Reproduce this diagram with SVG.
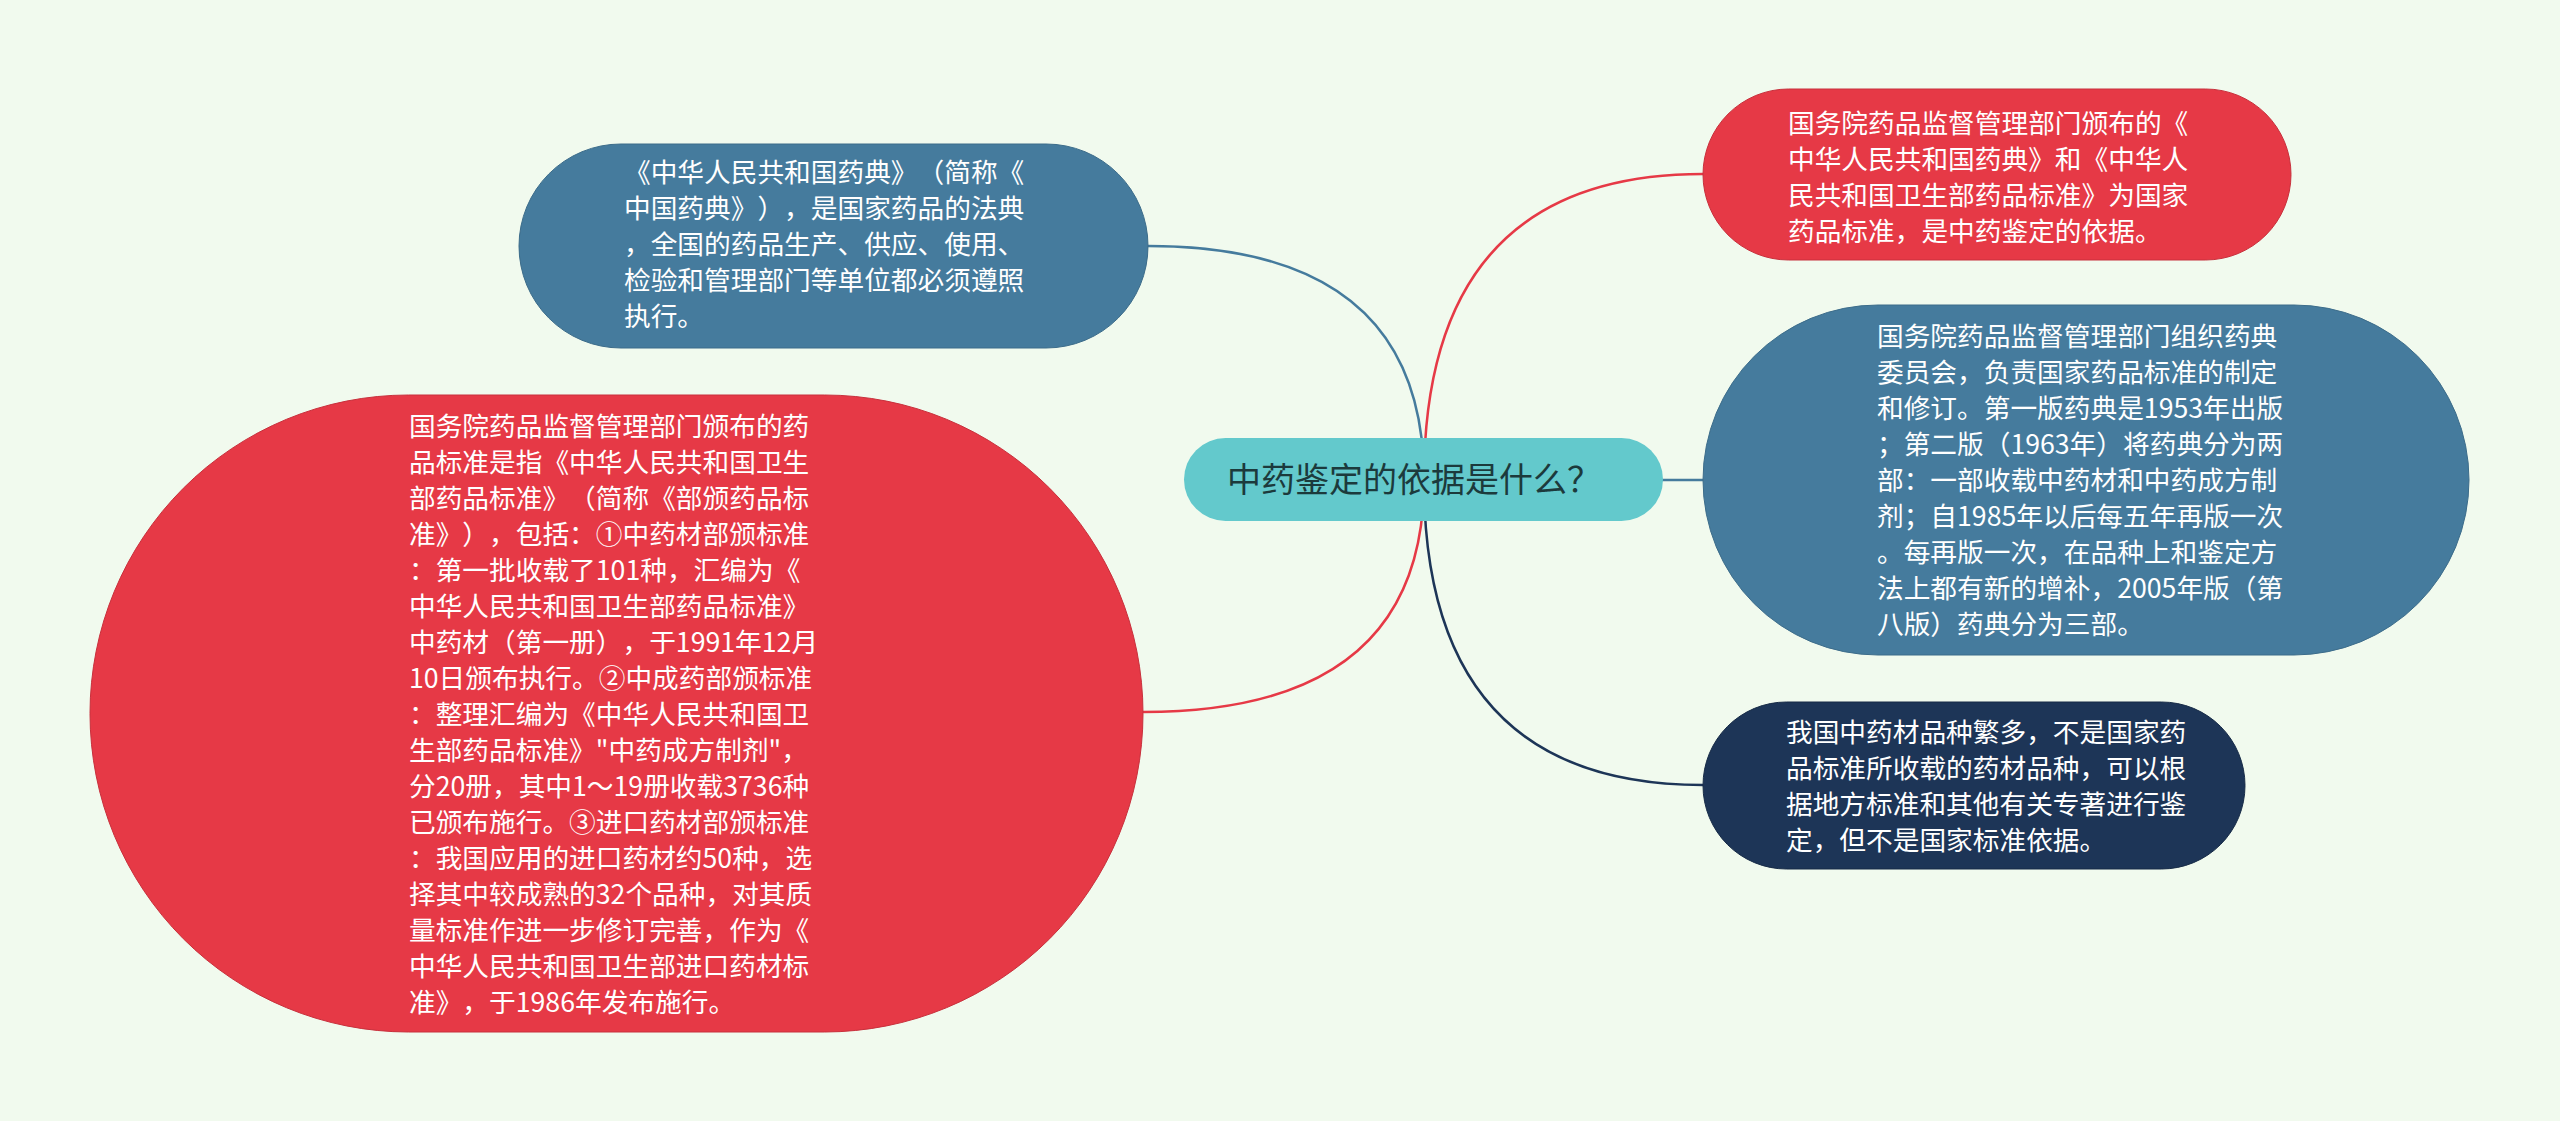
<svg xmlns="http://www.w3.org/2000/svg" width="2560" height="1121" viewBox="0 0 2560 1121">
<style>
svg{text-spacing-trim:space-all}
.bg{fill:#f1faee}
.red{fill:#e63946;stroke:#c8303c;stroke-width:1}
.blue{fill:#457b9d;stroke:#3c6c8a;stroke-width:1}
.navy{fill:#1d3557;stroke:#172b47;stroke-width:1}
.root{fill:#63c9cc}
.t{font-family:"Noto Sans CJK SC","Noto Sans",sans-serif;font-size:26.7px;fill:#ffffff;text-spacing-trim:space-all;font-feature-settings:"halt" 0,"palt" 0}
.rt{font-family:"Noto Sans CJK SC","Noto Sans",sans-serif;font-size:34px;fill:#1c3a3c}
.c{fill:none;stroke-width:2.5}
</style>
<rect class="bg" x="0" y="0" width="2560" height="1121"/>
<g id="connectors">
<path class="c" stroke="#457b9d" d="M1424 480 Q1424 246 1148 246"/>
<path class="c" stroke="#e63946" d="M1424 480 Q1424 174 1703 174"/>
<path class="c" stroke="#457b9d" d="M1424 480 L1703 480"/>
<path class="c" stroke="#e63946" d="M1424 480 Q1424 712 1143 712"/>
<path class="c" stroke="#1d3557" d="M1424 480 Q1424 785 1703 785"/>
</g>
<g id="root">
<rect class="root" x="1184" y="438" width="479" height="83" rx="41.5"/>
<text class="rt" x="1227" y="492">中药鉴定的依据是什么？</text>
</g>
<g id="node-pharmacopoeia">
<rect class="blue" x="519" y="144" width="629" height="204" rx="102"/>
<text class="t" x="624">
<tspan x="624" y="182">《中华人民共和国药典》（简称《</tspan>
<tspan x="624" y="218">中国药典》），是国家药品的法典</tspan>
<tspan x="624" y="254">，全国的药品生产、供应、使用、</tspan>
<tspan x="624" y="290">检验和管理部门等单位都必须遵照</tspan>
<tspan x="624" y="326">执行。</tspan>
</text>
</g>
<g id="node-ministry-standards">
<rect class="red" x="90" y="395" width="1053" height="637" rx="318.5"/>
<text class="t" x="409">
<tspan x="409" y="436">国务院药品监督管理部门颁布的药</tspan>
<tspan x="409" y="472">品标准是指《中华人民共和国卫生</tspan>
<tspan x="409" y="508">部药品标准》（简称《部颁药品标</tspan>
<tspan x="409" y="544">准》），包括：①中药材部颁标准</tspan>
<tspan x="409" y="580">：第一批收载了101种，汇编为《</tspan>
<tspan x="409" y="616">中华人民共和国卫生部药品标准》</tspan>
<tspan x="409" y="652">中药材（第一册），于1991年12月</tspan>
<tspan x="409" y="688">10日颁布执行。②中成药部颁标准</tspan>
<tspan x="409" y="724">：整理汇编为《中华人民共和国卫</tspan>
<tspan x="409" y="760">生部药品标准》"中药成方制剂"，</tspan>
<tspan x="409" y="796">分20册，其中1～19册收载3736种</tspan>
<tspan x="409" y="832">已颁布施行。③进口药材部颁标准</tspan>
<tspan x="409" y="868">：我国应用的进口药材约50种，选</tspan>
<tspan x="409" y="904">择其中较成熟的32个品种，对其质</tspan>
<tspan x="409" y="940">量标准作进一步修订完善，作为《</tspan>
<tspan x="409" y="976">中华人民共和国卫生部进口药材标</tspan>
<tspan x="409" y="1012">准》，于1986年发布施行。</tspan>
</text>
</g>
<g id="node-national-standards">
<rect class="red" x="1703" y="89" width="588" height="171" rx="85.5"/>
<text class="t" x="1788">
<tspan x="1788" y="133">国务院药品监督管理部门颁布的《</tspan>
<tspan x="1788" y="169">中华人民共和国药典》和《中华人</tspan>
<tspan x="1788" y="205">民共和国卫生部药品标准》为国家</tspan>
<tspan x="1788" y="241">药品标准，是中药鉴定的依据。</tspan>
</text>
</g>
<g id="node-committee">
<rect class="blue" x="1703" y="305" width="766" height="350" rx="175"/>
<text class="t" x="1877">
<tspan x="1877" y="346">国务院药品监督管理部门组织药典</tspan>
<tspan x="1877" y="382">委员会，负责国家药品标准的制定</tspan>
<tspan x="1877" y="418">和修订。第一版药典是1953年出版</tspan>
<tspan x="1877" y="454">；第二版（1963年）将药典分为两</tspan>
<tspan x="1877" y="490">部：一部收载中药材和中药成方制</tspan>
<tspan x="1877" y="526">剂；自1985年以后每五年再版一次</tspan>
<tspan x="1877" y="562">。每再版一次，在品种上和鉴定方</tspan>
<tspan x="1877" y="598">法上都有新的增补，2005年版（第</tspan>
<tspan x="1877" y="634">八版）药典分为三部。</tspan>
</text>
</g>
<g id="node-local-standards">
<rect class="navy" x="1703" y="702" width="542" height="167" rx="83.5"/>
<text class="t" x="1786">
<tspan x="1786" y="742">我国中药材品种繁多，不是国家药</tspan>
<tspan x="1786" y="778">品标准所收载的药材品种，可以根</tspan>
<tspan x="1786" y="814">据地方标准和其他有关专著进行鉴</tspan>
<tspan x="1786" y="850">定，但不是国家标准依据。</tspan>
</text>
</g>
</svg>
